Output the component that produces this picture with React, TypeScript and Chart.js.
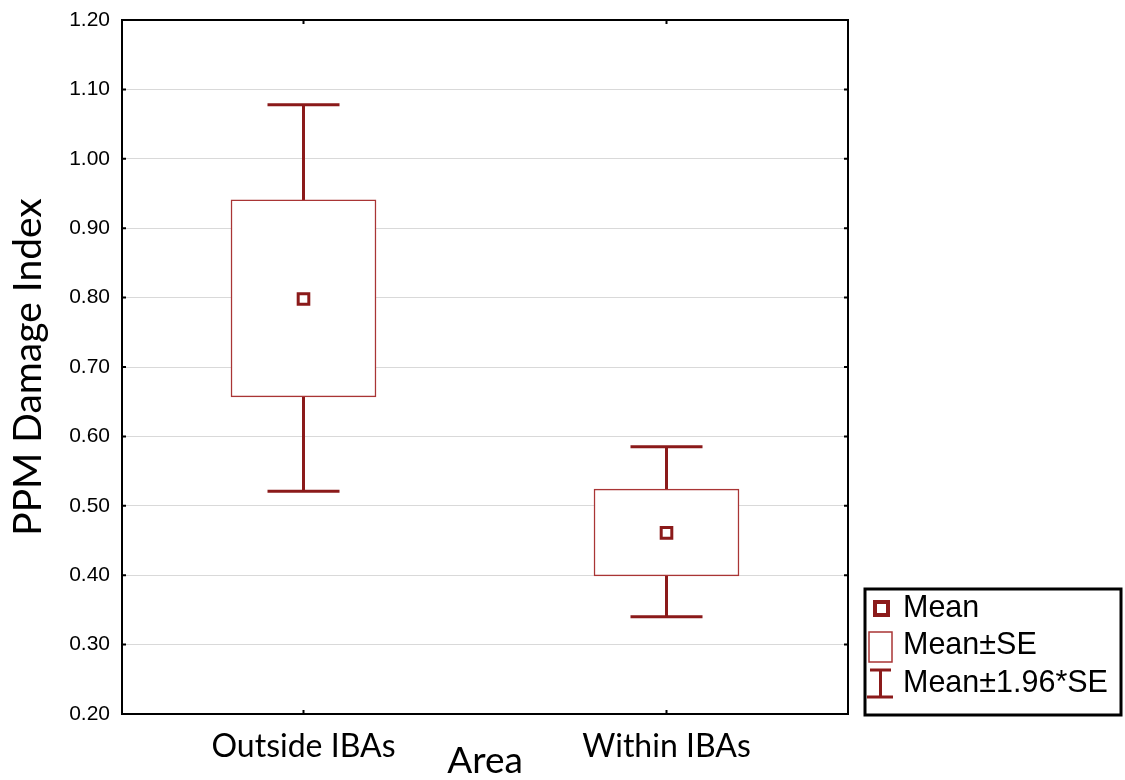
import React, { useEffect, useRef } from "react";
import { Chart, registerables } from "chart.js";

Chart.register(...registerables);

const categories = ["Outside IBAs", "Within IBAs"];
const means = [0.798, 0.461];
const seLow = [0.657, 0.399];
const seHigh = [0.941, 0.524];
const ciLow = [0.521, 0.34];
const ciHigh = [1.078, 0.585];
const yTickMin = 0.2;
const yTickMax = 1.2;
const yTickStep = 0.1;
const legendLabels = ["Mean", "Mean±SE", "Mean±1.96*SE"];
const xTitle = "Area";
const yTitle = "PPM Damage Index";

const DARK_RED = "#8B1A1A";
const BOX_RED = "#A93535";

const whiskerPlugin = {
  id: "whiskers",
  beforeDatasetsDraw(chart: any) {
    const { ctx, scales } = chart;
    const x = scales.x;
    const y = scales.y;
    const capHalf = 36;
    ctx.save();
    ctx.strokeStyle = DARK_RED;
    ctx.lineWidth = 3;
    ctx.lineCap = "butt";
    categories.forEach((_, i) => {
      const px = x.getPixelForValue(i);
      const yHi = y.getPixelForValue(ciHigh[i]);
      const yLo = y.getPixelForValue(ciLow[i]);
      ctx.beginPath();
      ctx.moveTo(px, yHi);
      ctx.lineTo(px, yLo);
      ctx.moveTo(px - capHalf, yHi);
      ctx.lineTo(px + capHalf, yHi);
      ctx.moveTo(px - capHalf, yLo);
      ctx.lineTo(px + capHalf, yLo);
      ctx.stroke();
    });
    ctx.restore();
  },
};

const framePlugin = {
  id: "frame",
  afterDraw(chart: any) {
    const { ctx, chartArea: a, scales } = chart;
    ctx.save();
    ctx.strokeStyle = "#000";
    ctx.lineWidth = 2;
    ctx.strokeRect(a.left, a.top, a.right - a.left, a.bottom - a.top);
    ctx.lineWidth = 2;
    const t = 4;
    ctx.beginPath();
    scales.y.ticks.forEach((tk: any) => {
      const py = scales.y.getPixelForValue(tk.value);
      ctx.moveTo(a.left, py);
      ctx.lineTo(a.left + t, py);
      ctx.moveTo(a.right, py);
      ctx.lineTo(a.right - t, py);
    });
    categories.forEach((_, i) => {
      const px = scales.x.getPixelForValue(i);
      ctx.moveTo(px, a.bottom);
      ctx.lineTo(px, a.bottom - t);
      ctx.moveTo(px, a.top);
      ctx.lineTo(px, a.top + t);
    });
    ctx.stroke();

    // legend
    const lx = 865;
    const ly = 589;
    const lw = 256;
    const lh = 126;
    ctx.lineWidth = 3;
    ctx.strokeStyle = "#000";
    ctx.strokeRect(lx, ly, lw, lh);

    ctx.strokeStyle = DARK_RED;
    ctx.lineWidth = 4;
    ctx.strokeRect(875, 602, 13, 13);

    ctx.strokeStyle = BOX_RED;
    ctx.lineWidth = 1.5;
    ctx.strokeRect(869, 632, 23, 30);

    ctx.strokeStyle = DARK_RED;
    ctx.lineWidth = 3;
    ctx.beginPath();
    ctx.moveTo(870, 670);
    ctx.lineTo(891, 670);
    ctx.moveTo(880.5, 670);
    ctx.lineTo(880.5, 697);
    ctx.moveTo(867, 697);
    ctx.lineTo(893, 697);
    ctx.stroke();

    ctx.fillStyle = "#000";
    ctx.font = "30.5px 'Liberation Sans', Arial, sans-serif";
    ctx.textBaseline = "middle";
    ctx.textAlign = "left";
    const ys = [609, 646, 684];
    legendLabels.forEach((lab, i) => ctx.fillText(lab, 903, ys[i]));
    ctx.restore();
  },
};

export default function App() {
  const ref = useRef<HTMLCanvasElement>(null);
  useEffect(() => {
    if (!ref.current) return;
    const chart = new Chart(ref.current, {
      type: "bar",
      data: {
        labels: categories,
        datasets: [
          {
            type: "line",
            label: "Mean",
            data: means,
            showLine: false,
            pointStyle: "rect",
            pointRadius: 7.5,
            pointBorderWidth: 3,
            pointBorderColor: DARK_RED,
            pointBackgroundColor: "#fff",
            order: 0,
          } as any,
          {
            type: "bar",
            label: "Mean±SE",
            data: categories.map((_, i) => [seLow[i], seHigh[i]]),
            backgroundColor: "#fff",
            borderColor: BOX_RED,
            borderWidth: 1.5,
            borderSkipped: false,
            barThickness: 145,
            order: 1,
          } as any,
        ],
      },
      options: {
        animation: false,
        responsive: false,
        maintainAspectRatio: false,
        layout: { padding: { top: 20, right: 277, left: 0, bottom: 0 } },
        plugins: { legend: { display: false }, tooltip: { enabled: false } },
        scales: {
          x: {
            type: "category",
            offset: true,
            grid: { display: false, drawTicks: false },
            border: { display: false },
            ticks: {
              color: "#000",
              padding: 13,
              font: { family: "Lato", size: 32 },
            },
            title: {
              display: true,
              text: xTitle,
              color: "#000",
              font: { family: "Lato", size: 37, lineHeight: 1 },
              padding: 0,
            },
            afterFit(s: any) {
              s.height = 66;
              s.paddingLeft = 0;
              s.paddingRight = 0;
            },
          },
          y: {
            min: yTickMin,
            max: yTickMax,
            grid: { color: "#d9d9d9", lineWidth: 1, drawTicks: false },
            border: { display: false },
            ticks: {
              stepSize: yTickStep,
              color: "#000",
              padding: 12,
              font: { family: "'Liberation Sans', Arial", size: 21 },
              callback: (v: any) => Number(v).toFixed(2),
            },
            title: {
              display: true,
              text: yTitle,
              color: "#000",
              font: { family: "Lato", size: 39, lineHeight: 1.2 },
              padding: { top: 5, bottom: 0 },
            },
            afterFit(s: any) {
              s.width = 122;
              s.paddingTop = 0;
              s.paddingBottom = 0;
            },
          },
        },
      },
      plugins: [whiskerPlugin, framePlugin],
    });
    return () => chart.destroy();
  }, []);
  return (
    <div style={{ position: "fixed", left: 0, top: 0, width: 1125, height: 780, background: "#fff" }}>
      <canvas ref={ref} width={1125} height={780} style={{ width: 1125, height: 780 }} />
    </div>
  );
}
